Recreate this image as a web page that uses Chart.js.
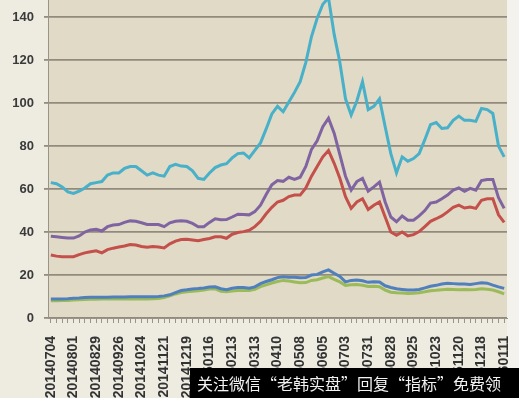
<!DOCTYPE html>
<html>
<head>
<meta charset="utf-8">
<script src="https://cdn.jsdelivr.net/npm/chart.js@4"></script>
<style>
  html, body { margin: 0; padding: 0; background: #eeebe1; }
  canvas { display: block; }
</style>
</head>
<body>
<canvas id="chart" width="519" height="398"></canvas>
<script>
const dates = [
  "20140704", "20140711", "20140718", "20140725", "20140801", "20140808", "20140815", "20140822",
  "20140829", "20140905", "20140912", "20140919", "20140926", "20141003", "20141010", "20141017",
  "20141024", "20141031", "20141107", "20141114", "20141121", "20141128", "20141205", "20141212",
  "20141219", "20141226", "20150102", "20150109", "20150116", "20150123", "20150130", "20150206",
  "20150213", "20150220", "20150227", "20150306", "20150313", "20150320", "20150327", "20150403",
  "20150410", "20150417", "20150424", "20150501", "20150508", "20150515", "20150522", "20150529",
  "20150605", "20150612", "20150619", "20150626", "20150703", "20150710", "20150717", "20150724",
  "20150731", "20150807", "20150814", "20150821", "20150828", "20150904", "20150911", "20150918",
  "20150925", "20151002", "20151009", "20151016", "20151023", "20151030", "20151106", "20151113",
  "20151120", "20151127", "20151204", "20151211", "20151218", "20151225", "20151231", "20160108",
  "20160111"
];

const cyanValues = [
  63, 62.5, 61, 58.7, 58, 59, 60.5, 62.5, 63, 63.5, 66.5, 67.5, 67.5, 69.6, 70.5, 70.5,
  68.5, 66.5, 67.5, 66.5, 66, 70.5, 71.5, 70.7, 70.5, 68.5, 65, 64.5, 67.5, 70, 71.2, 71.8,
  74.5, 76.5, 76.8, 74.5, 78, 81.5, 88, 95, 98.5, 96, 100.5, 105, 110, 119, 131, 139.5,
  146, 149, 132, 119, 102, 94.5, 101, 110, 97, 98.5, 102, 89, 76.5, 67.5, 75, 73,
  74.2, 76.5, 83, 90, 91, 88.2, 88.5, 92, 94, 92, 92, 91.5, 97.5, 97, 95.2, 80, 75
];

const purpleValues = [
  38, 37.8, 37.5, 37.2, 37.2, 38.2, 40, 41, 41.3, 40.5, 42.5, 43.3, 43.5, 44.5, 45.2, 45,
  44.3, 43.5, 43.5, 43.5, 42.5, 44.3, 45, 45.3, 45, 44, 42.5, 42.5, 44.5, 46.2, 45.7, 45.8,
  47, 48.3, 48.2, 48, 49.5, 52.5, 57.5, 62, 64, 63.6, 65.5, 64.5, 65.5, 70.5, 78.5, 82.5,
  89, 93, 86, 76, 66, 59.5, 63.5, 65, 59, 61, 63.2, 54, 47, 44.8, 47.5, 45.5,
  45.5, 47.5, 50, 53.5, 54, 55.5, 57.2, 59.5, 60.5, 59, 60.3, 59.5, 64, 64.5, 64.5, 56, 51
];

const redValues = [
  29.3, 28.8, 28.5, 28.5, 28.5, 29.5, 30.3, 30.8, 31.3, 30.3, 31.8, 32.5, 33, 33.5, 34.2, 34,
  33.3, 32.9, 33.3, 33, 32.6, 34.5, 35.8, 36.5, 36.6, 36.3, 36, 36.5, 37, 37.8, 37.8, 37.1,
  39, 39.8, 40.2, 40.8, 42.5, 45, 48.5, 51.5, 54, 54.8, 56.5, 57.2, 57.2, 60.5, 66, 70.5,
  75, 78, 72, 65, 56.5, 51, 54, 55.5, 50.5, 52.5, 54, 47, 40, 38.5, 40, 38.2,
  38.8, 40.2, 42.5, 45, 46.2, 47.5, 49.4, 51.5, 52.5, 51.2, 51.6, 51, 54.8, 55.5, 55.5, 48, 44.5
];

const blueValues = [
  8.8, 8.8, 8.9, 9, 9.2, 9.3, 9.5, 9.6, 9.6, 9.7, 9.7, 9.8, 9.8, 9.8, 9.9, 9.9,
  9.9, 9.9, 9.9, 10, 10.3, 10.8, 11.8, 12.8, 13.1, 13.5, 13.7, 14, 14.4, 14.5, 13.6, 13.2,
  13.8, 14.2, 14.2, 13.9, 14.5, 16, 17, 17.8, 18.8, 19.2, 19, 19, 18.7, 18.8, 20, 20.3,
  21.5, 22.4, 20.8, 19.3, 16.8, 17.5, 17.7, 17.3, 16.6, 16.9, 16.8, 15, 14.2, 13.6, 13.3, 13,
  13, 13.3, 14, 14.8, 15.2, 15.8, 16.2, 16, 15.8, 15.8, 15.6, 16, 16.4, 16.2, 15.3, 14.5, 13.8
];

const greenValues = [
  8, 8, 8.1, 8.2, 8.4, 8.5, 8.6, 8.7, 8.7, 8.8, 8.8, 8.8, 8.8, 8.8, 8.8, 8.8,
  8.8, 8.9, 9, 9.1, 9.5, 10.3, 11.2, 11.9, 12.2, 12.5, 12.7, 13, 13.5, 13.6, 12.4, 12.2,
  12.6, 12.8, 12.9, 12.8, 13.4, 14.6, 15.4, 16.3, 17, 17.5, 17.2, 16.8, 16.4, 16.5, 17.5, 17.8,
  18.6, 19.3, 18, 16.8, 15.2, 15.5, 15.6, 15.2, 14.7, 14.8, 14.6, 13, 12, 11.7, 11.6, 11.4,
  11.5, 11.8, 12.2, 12.7, 12.9, 13.2, 13.4, 13.3, 13.2, 13.3, 13.2, 13.3, 13.6, 13.4, 13, 12.2, 11.2
];

const yTicks = [0, 20, 40, 60, 80, 100, 120, 140];
const watermark = "关注微信“老韩实盘”回复“指标”免费领";

// background: cream page, beige plot area, lighter strip on the right
const backdrop = {
  id: "backdrop",
  beforeDraw(chart) {
    const { ctx, chartArea: a } = chart;
    ctx.save();
    ctx.fillStyle = "#eeebe1";
    ctx.fillRect(0, 0, chart.width, chart.height);
    ctx.fillStyle = "#f4f2ec";
    ctx.fillRect(a.right, 0, chart.width - a.right, chart.height);
    ctx.fillStyle = "#e1dac6";
    ctx.fillRect(a.left, a.top, a.right - a.left, a.bottom - a.top);
    ctx.restore();
  }
};

// black caption bar at the bottom right
const caption = {
  id: "caption",
  afterDraw(chart) {
    const ctx = chart.ctx;
    ctx.save();
    ctx.fillStyle = "#000";
    ctx.fillRect(190, 368, chart.width - 190, chart.height - 368);
    ctx.fillStyle = "#f2f2f2";
    ctx.font = '16px "Noto Sans CJK SC"';
    ctx.textBaseline = "middle";
    ctx.fillText(watermark, 197, 384);
    ctx.restore();
  }
};

function line(label, data, color) {
  return {
    label: label,
    data: data,
    borderColor: color,
    backgroundColor: color,
    borderWidth: 3,
    pointRadius: 0,
    tension: 0,
    fill: false,
  };
}

new Chart(document.getElementById("chart"), {
  type: "line",
  data: {
    labels: dates,
    datasets: [
      line("系列1", blueValues, "#4f7fbd"),
      line("系列2", greenValues, "#9bbb59"),
      line("系列3", redValues, "#c4504b"),
      line("系列4", purpleValues, "#8064a2"),
      line("系列5", cyanValues, "#48b0c8"),
    ],
  },
  options: {
    responsive: false,
    animation: false,
    layout: { padding: { left: 0, right: 12, top: 0, bottom: 0 } },
    plugins: {
      legend: { display: false },
      tooltip: { enabled: false },
    },
    scales: {
      x: {
        offset: true,
        grid: {
          drawOnChartArea: false,
          drawTicks: true,
          tickLength: 5,
          color: "#9a9488",
        },
        border: { color: "#9a9488", width: 1 },
        ticks: {
          autoSkip: false,
          maxRotation: 90,
          minRotation: 90,
          padding: 13,
          color: "#333",
          font: { family: "Liberation Sans", size: 14, weight: "bold" },
          callback: (v, i) => (i % 4 === 0 || i === dates.length - 1) ? dates[i] : "",
        },
        afterFit: (s) => {
          s.height = 80;
          s.paddingLeft = 0;
          s.paddingRight = 0;
        },
      },
      y: {
        min: 0,
        max: 148,
        grid: {
          color: "rgba(138,130,116,0.9)",
          lineWidth: 1.8,
          tickLength: 4,
        },
        border: { color: "#9a9488", width: 1 },
        ticks: {
          stepSize: 20,
          padding: 10,
          color: "#3a3a3a",
          font: { family: "Liberation Sans", size: 13, weight: "bold" },
        },
        afterBuildTicks: (s) => {
          s.ticks = yTicks.map((v) => ({ value: v }));
        },
        afterFit: (s) => {
          s.width = 48;
          s.paddingTop = 0;
          s.paddingBottom = 0;
        },
      },
    },
  },
  plugins: [backdrop, caption],
});
</script>
</body>
</html>
